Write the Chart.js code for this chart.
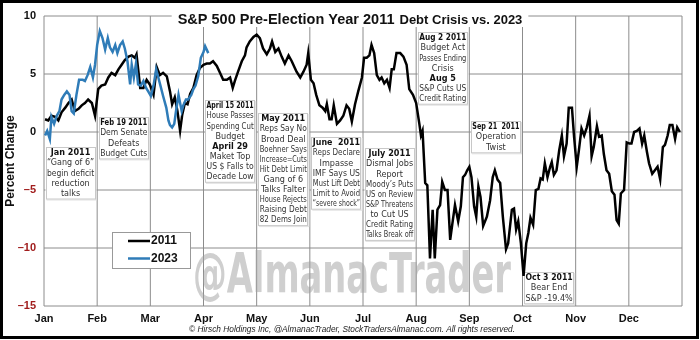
<!DOCTYPE html>
<html>
<head>
<meta charset="utf-8">
<script src="https://cdn.jsdelivr.net/npm/chart.js@4.4.1/dist/chart.umd.min.js"></script>
<style>
  html, body { margin: 0; padding: 0; background: #fff; }
  #chart { display: block; }
</style>
</head>
<body>
<canvas id="chart" width="700" height="340"></canvas>
<script>
const months = ['Jan', 'Feb', 'Mar', 'Apr', 'May', 'Jun', 'Jul', 'Aug', 'Sep', 'Oct', 'Nov', 'Dec'];
const yTicks = [-15, -10, -5, 0, 5, 10];

// time = months since Jan 1, value = percent change from start of year
const time2011 = [
    0.02, 0.08, 0.14, 0.21, 0.27, 0.33, 0.40, 0.46, 0.52, 0.58, 0.65, 0.71, 0.77, 0.83, 0.90, 0.96,
    1.02, 1.08, 1.15, 1.21, 1.27, 1.34, 1.40, 1.46, 1.52, 1.59, 1.65, 1.71, 1.74, 1.81, 1.87, 1.93, 1.99,
    2.06, 2.12, 2.18, 2.24, 2.31, 2.37, 2.41, 2.46, 2.51, 2.56, 2.60, 2.65, 2.70, 2.75, 2.81, 2.87, 2.93,
    3.00, 3.06, 3.12, 3.18, 3.25, 3.31, 3.37, 3.44, 3.50, 3.55, 3.59, 3.65, 3.72, 3.78, 3.81, 3.87, 3.94,
    4.00, 4.06, 4.12, 4.19, 4.25, 4.29, 4.35, 4.41, 4.47, 4.53, 4.60, 4.66, 4.72, 4.75, 4.82, 4.88, 4.94, 4.97,
    5.02, 5.07, 5.12, 5.18, 5.24, 5.29, 5.32, 5.37, 5.41, 5.45, 5.51, 5.57, 5.63, 5.69, 5.74, 5.79, 5.85, 5.91, 5.98,
    6.02, 6.07, 6.12, 6.16, 6.21, 6.26, 6.31, 6.35, 6.40, 6.45, 6.50, 6.54, 6.58, 6.63, 6.70, 6.76, 6.82, 6.87, 6.94,
    7.00, 7.06, 7.09, 7.12, 7.17, 7.21, 7.26, 7.31, 7.35, 7.40, 7.45, 7.49, 7.54, 7.59, 7.64, 7.69, 7.73, 7.79, 7.84, 7.88, 7.92, 7.96,
    8.00, 8.04, 8.09, 8.13, 8.17, 8.21, 8.26, 8.33, 8.39, 8.44, 8.48, 8.53, 8.58, 8.63, 8.69, 8.73, 8.80, 8.84, 8.88, 8.92, 8.97,
    9.02, 9.07, 9.11, 9.15, 9.20, 9.25, 9.30, 9.34, 9.38, 9.42, 9.47, 9.52, 9.55, 9.59, 9.64, 9.69, 9.74, 9.78, 9.83, 9.87, 9.93, 9.97,
    10.02, 10.06, 10.11, 10.16, 10.21, 10.26, 10.30, 10.34, 10.40, 10.44, 10.49, 10.53, 10.58, 10.63, 10.68, 10.73, 10.77, 10.81, 10.85, 10.91, 10.96,
    11.01, 11.05, 11.10, 11.15, 11.20, 11.25, 11.29, 11.34, 11.38, 11.44, 11.49, 11.54, 11.59, 11.64, 11.68, 11.73, 11.77, 11.82, 11.87, 11.91, 11.96
];
const pct2011 = [
    1.1, 1.0, 1.4, 1.3, 1.0, 1.7, 2.1, 2.5, 2.8, 1.8, 2.0, 2.3, 2.5, 2.8, 2.5, 1.4,
    3.7, 4.0, 4.1, 4.7, 5.1, 4.9, 5.4, 5.8, 6.2, 6.5, 6.6, 6.4, 6.7, 3.8, 3.8, 4.5, 4.1,
    3.2, 5.6, 4.9, 5.1, 4.8, 3.5, 2.4, 3.0, 1.8, 0.1, 1.5, 2.5, 2.4, 3.3, 3.8, 4.9, 5.5,
    5.8, 5.9, 5.9, 6.1, 5.7, 5.1, 4.5, 4.5, 4.7, 3.8, 4.4, 5.2, 6.1, 6.6, 7.3, 7.8, 8.2,
    8.4, 8.1, 7.2, 6.7, 7.2, 7.8, 6.9, 7.2, 6.5, 5.9, 6.6, 6.1, 5.5, 5.2, 4.7, 5.2, 5.8, 6.8,
    4.5, 4.2, 3.2, 2.3, 2.1, 1.8, 2.4, 1.1, 1.1, 2.3, 0.7, 1.0, 1.4, 2.3, 2.0, 0.9, 2.4, 3.5, 4.7,
    6.4, 6.4, 6.6, 7.5, 6.8, 4.9, 4.5, 4.7, 4.2, 4.5, 3.8, 5.4, 5.4, 6.8, 6.8, 6.5, 5.8, 3.7, 3.2,
    2.5, 0.7, -0.3, 0.1, -4.4, -4.6, -10.9, -6.7, -10.9, -6.7, -6.3, -4.3, -5.0, -5.0, -9.3, -7.6, -6.3, -7.7, -6.4, -3.9, -3.7, -3.3,
    -3.0, -3.9, -6.4, -7.3, -4.7, -5.6, -8.1, -7.3, -5.9, -3.9, -3.3, -4.1, -4.4, -7.3, -10.1, -9.6, -6.7, -6.6, -8.4, -7.7, -9.6,
    -12.4, -9.6, -8.7, -7.4, -8.0, -5.0, -4.9, -4.0, -4.1, -2.7, -3.9, -3.0, -2.6, -3.7, -3.3, -1.6, -0.3, -2.1, -1.0, 2.1, 2.1, -0.4,
    -3.0, -1.6, 0.3, -0.3, 0.4, 1.4, -2.1, -1.3, 0.5, -0.4, -0.3, -1.9, -3.3, -3.6, -5.1, -5.4, -7.6, -7.9, -5.3, -5.0, -0.9,
    -1.0, -1.0, 0.0, 0.1, 0.3, -1.0, -0.3, -1.7, -2.7, -3.6, -3.3, -3.0, -4.1, -1.3, -1.1, -0.3, 0.6, 0.6, -0.6, 0.4, 0.0
];

const time2023 = [
    0.02, 0.06, 0.11, 0.14, 0.19, 0.24, 0.29, 0.33, 0.38, 0.43, 0.48, 0.52, 0.56, 0.61, 0.66, 0.73, 0.77, 0.82, 0.87, 0.92, 0.96,
    1.00, 1.05, 1.10, 1.15, 1.20, 1.24, 1.29, 1.34, 1.38, 1.43, 1.48, 1.52, 1.57, 1.62, 1.65, 1.69, 1.73, 1.77, 1.82, 1.87, 1.92, 1.96,
    2.01, 2.06, 2.11, 2.15, 2.19, 2.24, 2.30, 2.34, 2.37, 2.41, 2.45, 2.48, 2.53, 2.56, 2.59, 2.62, 2.67, 2.71, 2.77, 2.81, 2.85, 2.90, 2.95,
    3.00, 3.03, 3.06, 3.09
];
const pct2023 = [
    -0.3, 0.1, -0.6, 1.3, 0.7, 1.4, 1.8, 2.8, 3.2, 3.5, 3.2, 1.8, 1.6, 3.2, 4.5, 4.5, 4.4, 4.9, 5.6, 4.7, 5.8,
    7.5, 8.7, 8.1, 7.1, 8.1, 7.3, 6.9, 7.5, 6.8, 7.5, 7.8, 7.2, 6.1, 4.1, 5.8, 4.7, 5.9, 4.1, 4.0, 4.4, 3.8, 3.5,
    3.1, 4.0, 5.4, 4.7, 4.0, 3.1, 2.1, 1.0, 0.6, 0.4, 0.7, 1.7, 3.2, 2.5, 1.8, 2.3, 2.8, 2.8, 3.2, 3.7, 4.0, 4.8, 6.4,
    6.9, 7.4, 7.1, 6.8
];

// callout boxes: month column, top edge (in % units), text lines, bold line indexes
const notes = [
    { month: 0, top: -1.3, bold: [0], lines: ['Jan 2011', '\u201cGang of 6\u201d', 'begin deficit', 'reduction', 'talks'] },
    { month: 1, top: 1.3, bold: [0], lines: ['Feb 19 2011', 'Dem Senate', 'Defeats', 'Budget Cuts'] },
    { month: 3, top: 2.75, bold: [0, 4], lines: ['April 15 2011', 'House Passes', 'Spending Cut', 'Budget', 'April 29', 'Maket Top', 'US $ Falls to', 'Decade Low'] },
    { month: 4, top: 1.65, bold: [0], lines: ['May 2011', 'Reps Say No', 'Broad Deal', 'Boehner Says', 'Increase=Cuts', 'Hit Debt Limit', 'Gang of 6', 'Talks Falter', 'House Rejects', 'Raising Debt', '82 Dems Join'] },
    { month: 5, top: -0.45, bold: [0], lines: ['June  2011', 'Reps Declare', 'Impasse', 'IMF Says US', 'Must Lift Debt', 'Limit to Avoid', '\u201csevere shock\u201d'] },
    { month: 6, top: -1.4, bold: [0], lines: ['July 2011', 'Dismal Jobs', 'Report', 'Moody\u2019s Puts', 'US on Review', 'S&P Threatens', 'to Cut US', 'Credit Rating', 'Talks Break off'] },
    { month: 7, top: 8.6, bold: [0, 4], lines: ['Aug 2 2011', 'Budget Act', 'Passes Ending', 'Crisis', 'Aug 5', 'S&P Cuts US', 'Credit Rating'] },
    { month: 8, top: 0.95, bold: [0], lines: ['Sep 21  2011', 'Operation', 'Twist'] },
    { month: 9, top: -12.05, bold: [0], lines: ['Oct 3 2011', 'Bear End', 'S&P -19.4%'] }
];

const SANS = '"Liberation Sans", Arial, sans-serif';
const NARROW = '"Liberation Sans Narrow", "DejaVu Sans Condensed", sans-serif';
const GRID = '#8c8c8c';
const yMin = yTicks[0];
const yMax = yTicks[yTicks.length - 1];

const toPoints = (xs, ys) => xs.map((x, i) => ({ x: x, y: ys[i] }));

// grid drawn as thin library lines, one per month edge and one per y tick
const gridSets = [];
for (let m = 0; m <= months.length; m++) {
    gridSets.push({ isGrid: true, label: '', data: [{ x: m, y: yMin }, { x: m, y: yMax }] });
}
yTicks.forEach(v => {
    gridSets.push({ isGrid: true, label: '', data: [{ x: 0, y: v }, { x: months.length, y: v }] });
});
gridSets.forEach(g => {
    g.borderColor = GRID;
    g.borderWidth = 1;
    g.pointRadius = 0;
    g.clip = false;
    g.order = 10;
});

function drawCallouts(chart) {
    const ctx = chart.ctx;
    const xs = chart.scales.x;
    const ys = chart.scales.y;
    ctx.save();

    // watermark
    ctx.font = 'bold 56px ' + NARROW;
    ctx.fillStyle = 'rgba(160,160,160,0.5)';
    ctx.textAlign = 'center';
    ctx.textBaseline = 'alphabetic';
    ctx.fillText('@AlmanacTrader', 352, 292, 318);

    const lineH = 10.1;
    notes.forEach(n => {
        const left = xs.getPixelForValue(n.month) + 1.5;
        const right = xs.getPixelForValue(n.month + 1) - 1.5;
        const top = Math.round(ys.getPixelForValue(n.top));
        const h = n.lines.length * lineH + 2;
        ctx.fillStyle = '#e2e2e2';
        ctx.fillRect(left + 1, top + 1, right - left, h);
        ctx.fillStyle = '#fff';
        ctx.fillRect(left, top, right - left, h);
        ctx.strokeStyle = '#c8c8c8';
        ctx.lineWidth = 1;
        ctx.strokeRect(Math.round(left) + 0.5, top + 0.5, Math.round(right - left) - 1, h - 1);
        ctx.textAlign = 'center';
        ctx.textBaseline = 'middle';
        n.lines.forEach((line, i) => {
            const isBold = n.bold.includes(i);
            ctx.font = (isBold ? 'bold ' : '') + '9px ' + NARROW;
            ctx.fillStyle = isBold ? '#111' : '#333';
            ctx.fillText(line, (left + right) / 2, top + 6 + i * lineH, right - left - 3);
        });
    });
    ctx.restore();
}

const almanacDecor = {
    id: 'almanacDecor',
    beforeDraw: (chart) => {
        const ctx = chart.ctx;
        ctx.save();
        ctx.fillStyle = '#fff';
        ctx.fillRect(0, 0, chart.width, chart.height);
        ctx.restore();
    },
    beforeDatasetDraw: (chart, args) => {
        // callouts go above the grid, below the two series
        if (chart.data.datasets[args.index].label === '2011') {
            drawCallouts(chart);
        }
    },
    afterDraw: (chart) => {
        const ctx = chart.ctx;
        ctx.save();

        // title on a white strip over the top grid line
        const mainT = 'S&P 500 Pre-Election Year 2011';
        const subT = 'Debt Crisis vs. 2023';
        ctx.font = 'bold 14.5px ' + SANS;
        const w1 = ctx.measureText(mainT).width;
        ctx.font = 'bold 13px ' + SANS;
        const w2 = ctx.measureText(subT).width;
        const total = w1 + 5 + w2;
        const startX = 350 - total / 2;
        ctx.fillStyle = '#fff';
        ctx.fillRect(startX - 6, 5, total + 12, 22);
        ctx.fillStyle = '#111';
        ctx.textAlign = 'left';
        ctx.textBaseline = 'alphabetic';
        ctx.font = 'bold 14.5px ' + SANS;
        ctx.fillText(mainT, startX, 23.5);
        ctx.font = 'bold 13px ' + SANS;
        ctx.fillText(subT, startX + w1 + 5, 23.5);

        // legend (series only)
        const lx = 112, ly = 232;
        ctx.fillStyle = '#fff';
        ctx.fillRect(lx, ly, 78, 36);
        ctx.strokeStyle = '#999';
        ctx.lineWidth = 1;
        ctx.strokeRect(lx + 0.5, ly + 0.5, 78, 36);
        chart.data.datasets.filter(ds => !ds.isGrid).forEach((ds, i) => {
            const y = ly + 9 + i * 17.5;
            ctx.strokeStyle = ds.borderColor;
            ctx.lineWidth = 2.5;
            ctx.beginPath();
            ctx.moveTo(lx + 16, y);
            ctx.lineTo(lx + 38, y);
            ctx.stroke();
            ctx.fillStyle = '#111';
            ctx.font = 'bold 12px ' + SANS;
            ctx.textAlign = 'left';
            ctx.textBaseline = 'middle';
            ctx.fillText(ds.label, lx + 39, y);
        });

        // footer
        ctx.font = 'italic 8.5px ' + SANS;
        ctx.fillStyle = '#222';
        ctx.textAlign = 'center';
        ctx.textBaseline = 'middle';
        ctx.fillText('\u00a9 Hirsch Holdings Inc, @AlmanacTrader, StockTradersAlmanac.com. All rights reserved.', 352, 330, 326);

        // outer frame
        ctx.strokeStyle = '#000';
        ctx.lineWidth = 3;
        ctx.strokeRect(1.5, 1.5, 696, 336);
        ctx.restore();
    }
};

new Chart(document.getElementById('chart').getContext('2d'), {
    type: 'line',
    data: {
        datasets: [
            {
                label: '2011',
                data: toPoints(time2011, pct2011),
                borderColor: '#000',
                borderWidth: 2.5,
                pointRadius: 0,
                tension: 0,
                order: 2
            },
            {
                label: '2023',
                data: toPoints(time2023, pct2023),
                borderColor: '#2f7cb8',
                borderWidth: 2.5,
                pointRadius: 0,
                tension: 0,
                order: 1
            }
        ].concat(gridSets)
    },
    options: {
        responsive: false,
        animation: false,
        devicePixelRatio: 1,
        layout: { padding: { top: 16, right: 18, left: 0, bottom: 0 } },
        plugins: {
            legend: { display: false },
            tooltip: { enabled: false }
        },
        scales: {
            x: {
                type: 'linear',
                min: 0,
                max: months.length,
                afterFit: (scale) => { scale.height = 34; },
                grid: { display: false, drawTicks: false },
                border: { display: false },
                ticks: {
                    stepSize: 1,
                    padding: 6,
                    maxRotation: 0,
                    autoSkip: false,
                    color: '#111',
                    font: { family: SANS, size: 11, weight: 'bold' },
                    callback: (v) => months[v] || ''
                }
            },
            y: {
                min: yMin,
                max: yMax,
                afterFit: (scale) => { scale.width = 44; },
                grid: { display: false, drawTicks: false },
                border: { display: false },
                title: {
                    display: true,
                    text: 'Percent Change',
                    color: '#111',
                    padding: { top: 3, bottom: 0 },
                    font: { family: SANS, size: 12, weight: 'bold' }
                },
                ticks: {
                    stepSize: 5,
                    padding: 8,
                    font: { family: SANS, size: 11, weight: 'bold' },
                    color: (c) => (c.tick && c.tick.value < 0 ? '#a11d1d' : '#111'),
                    callback: (v) => (v < 0 ? '\u2013' + Math.abs(v) : String(v))
                }
            }
        }
    },
    plugins: [almanacDecor]
});
</script>
</body>
</html>
